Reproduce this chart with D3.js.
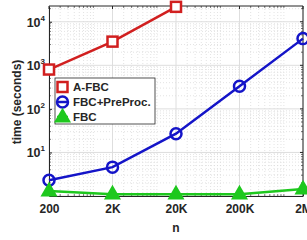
<!DOCTYPE html>
<html>
<head>
<meta charset="UTF-8">
<title>time vs n</title>
<script src="https://cdn.jsdelivr.net/npm/d3@7"></script>
<style>
  body { margin: 0; background: #fff; }
  svg { display: block; }
  text { font-family: "Liberation Sans", Arial, sans-serif; font-weight: bold; fill: #262626; }
</style>
</head>
<body>
<div id="chart"></div>
<script>
// problem sizes on x, runtimes (seconds) on y
const sizes = [200, 2000, 20000, 200000, 2000000];
const sizeLabels = ["200", "2K", "20K", "200K", "2M"];
const aFbc = [800, 3500, 22000];            // A-FBC stops at 20K
const fbcPre = [2.3, 4.6, 27, 330, 4100];   // FBC+PreProc.
const fbc = [1.3, 1.1, 1.1, 1.1, 1.45];     // FBC
const yDecades = [1, 10, 100, 1000, 10000];

const width = 307, height = 240;
const plotL = 49, plotR = 303, plotT = 6, plotB = 196;

const svg = d3.select("#chart").append("svg")
    .attr("width", width)
    .attr("height", height);

const x = d3.scaleLog().domain([200, 2000000]).range([plotL, plotR]);
const y = d3.scaleLog().domain([1, 23000]).range([plotB, plotT]);

// minor grid (dotted) - x at n*10^k, y at n*10^k
const xMinor = [];
for (let k = 2; k <= 6; k++) {
    for (let m = 1; m <= 9; m++) {
        const v = m * Math.pow(10, k);
        if (v > 200 && v < 2000000 && sizes.indexOf(v) < 0) xMinor.push(v);
    }
}
const yMinor = [];
for (let k = 0; k <= 4; k++) {
    for (let m = 2; m <= 9; m++) {
        const v = m * Math.pow(10, k);
        if (v < 23000) yMinor.push(v);
    }
}

const grid = svg.append("g");
grid.selectAll("line.xminor").data(xMinor).enter().append("line")
    .attr("x1", d => x(d)).attr("x2", d => x(d))
    .attr("y1", plotT).attr("y2", plotB)
    .attr("stroke", "#dcdcdc").attr("stroke-width", 0.8).attr("stroke-dasharray", "1,2");
grid.selectAll("line.yminor").data(yMinor).enter().append("line")
    .attr("y1", d => y(d)).attr("y2", d => y(d))
    .attr("x1", plotL).attr("x2", plotR)
    .attr("stroke", "#dcdcdc").attr("stroke-width", 0.8).attr("stroke-dasharray", "1,2");
grid.selectAll("line.xmajor").data(sizes).enter().append("line")
    .attr("x1", d => x(d)).attr("x2", d => x(d))
    .attr("y1", plotT).attr("y2", plotB)
    .attr("stroke", "#dedede").attr("stroke-width", 1);
grid.selectAll("line.ymajor").data(yDecades).enter().append("line")
    .attr("y1", d => y(d)).attr("y2", d => y(d))
    .attr("x1", plotL).attr("x2", plotR)
    .attr("stroke", "#dedede").attr("stroke-width", 1);

// axes with inside ticks (box on)
const axisColor = "#262626";
const xAxis = d3.axisBottom(x).tickValues(sizes).tickFormat((d, i) => sizeLabels[i])
    .tickSizeInner(-3).tickSizeOuter(0).tickPadding(8);
const gx = svg.append("g").attr("transform", `translate(0,${plotB})`).call(xAxis);
gx.select(".domain").attr("stroke", axisColor);
gx.selectAll(".tick line").attr("stroke", axisColor);
gx.selectAll("text").attr("font-size", 12).attr("font-family", null).attr("fill", axisColor);

const yAxis = d3.axisLeft(y).tickValues(yDecades.slice(1)).tickFormat("")
    .tickSizeInner(-3).tickSizeOuter(0);
const gy = svg.append("g").attr("transform", `translate(${plotL},0)`).call(yAxis);
gy.select(".domain").attr("stroke", axisColor);
gy.selectAll(".tick line").attr("stroke", axisColor);

// power-of-ten labels
const yl = svg.append("g");
yDecades.slice(1).forEach(v => {
    const t = yl.append("text")
        .attr("x", plotL - 4).attr("y", y(v) + 5)
        .attr("text-anchor", "end").attr("font-size", 12.5);
    t.append("tspan").text("10");
    t.append("tspan").attr("font-size", 8).attr("dy", -6).text(Math.round(Math.log10(v)));
});

// minor ticks on all four sides
yMinor.forEach(v => {
    svg.append("line").attr("x1", plotL).attr("x2", plotL + 2).attr("y1", y(v)).attr("y2", y(v)).attr("stroke", axisColor).attr("stroke-width", 0.6);
    svg.append("line").attr("x1", plotR).attr("x2", plotR - 2).attr("y1", y(v)).attr("y2", y(v)).attr("stroke", axisColor).attr("stroke-width", 0.6);
});
xMinor.forEach(v => {
    svg.append("line").attr("y1", plotB).attr("y2", plotB - 2).attr("x1", x(v)).attr("x2", x(v)).attr("stroke", axisColor).attr("stroke-width", 0.6);
    svg.append("line").attr("y1", plotT).attr("y2", plotT + 2).attr("x1", x(v)).attr("x2", x(v)).attr("stroke", axisColor).attr("stroke-width", 0.6);
});
// top and right box lines with major ticks
svg.append("line").attr("x1", plotL).attr("x2", plotR).attr("y1", plotT).attr("y2", plotT).attr("stroke", axisColor);
svg.append("line").attr("x1", plotR).attr("x2", plotR).attr("y1", plotT).attr("y2", plotB).attr("stroke", axisColor);
sizes.forEach(v => {
    svg.append("line").attr("y1", plotT).attr("y2", plotT + 3).attr("x1", x(v)).attr("x2", x(v)).attr("stroke", axisColor);
});
yDecades.slice(1).forEach(v => {
    svg.append("line").attr("x1", plotR).attr("x2", plotR - 3).attr("y1", y(v)).attr("y2", y(v)).attr("stroke", axisColor);
});

// axis labels
svg.append("text").attr("x", (plotL + plotR) / 2).attr("y", 232)
    .attr("text-anchor", "middle").attr("font-size", 12).text("n");
svg.append("text").attr("transform", `translate(21,102) rotate(-90)`)
    .attr("text-anchor", "middle").attr("font-size", 12).text("time (seconds)");

// series
const series = [
    {name: "A-FBC", values: aFbc, color: "#d11f1f", marker: "square"},
    {name: "FBC+PreProc.", values: fbcPre, color: "#1414c8", marker: "circle"},
    {name: "FBC", values: fbc, color: "#1ec81e", marker: "triangle"}
];

const line = d3.line().x(d => x(d[0])).y(d => y(d[1]));

function drawMarker(g, kind, color, cx, cy) {
    if (kind === "square") {
        g.append("rect").attr("x", cx - 5).attr("y", cy - 5).attr("width", 10).attr("height", 10)
            .attr("fill", "#fff").attr("stroke", color).attr("stroke-width", 2.5);
    } else if (kind === "circle") {
        g.append("circle").attr("cx", cx).attr("cy", cy).attr("r", 5.5)
            .attr("fill", "none").attr("stroke", color).attr("stroke-width", 2.5);
    } else {
        const s = d3.symbol().type(d3.symbolTriangle).size(70);
        g.append("path").attr("d", s()).attr("transform", `translate(${cx},${cy + 0.5})`)
            .attr("fill", color).attr("stroke", color).attr("stroke-width", 2.5);
    }
}

series.forEach(s => {
    const pts = s.values.map((v, i) => [sizes[i], v]);
    svg.append("path").datum(pts).attr("d", line)
        .attr("fill", "none").attr("stroke", s.color).attr("stroke-width", 2.5);
    const g = svg.append("g");
    pts.forEach(p => drawMarker(g, s.marker, s.color, x(p[0]), y(p[1])));
});

// legend
const lg = svg.append("g");
lg.append("rect").attr("x", 55).attr("y", 78).attr("width", 100).attr("height", 46)
    .attr("fill", "#fff").attr("stroke", axisColor).attr("stroke-width", 0.8);
series.forEach((s, i) => {
    const cy = 87 + i * 15;
    lg.append("line").attr("x1", 57).attr("x2", 68).attr("y1", cy).attr("y2", cy)
        .attr("stroke", s.color).attr("stroke-width", 2.5);
    drawMarker(lg, s.marker, s.color, 62.5, cy);
    lg.append("text").attr("x", 73).attr("y", cy + 4).attr("font-size", 11.5).text(s.name);
});
</script>
</body>
</html>
